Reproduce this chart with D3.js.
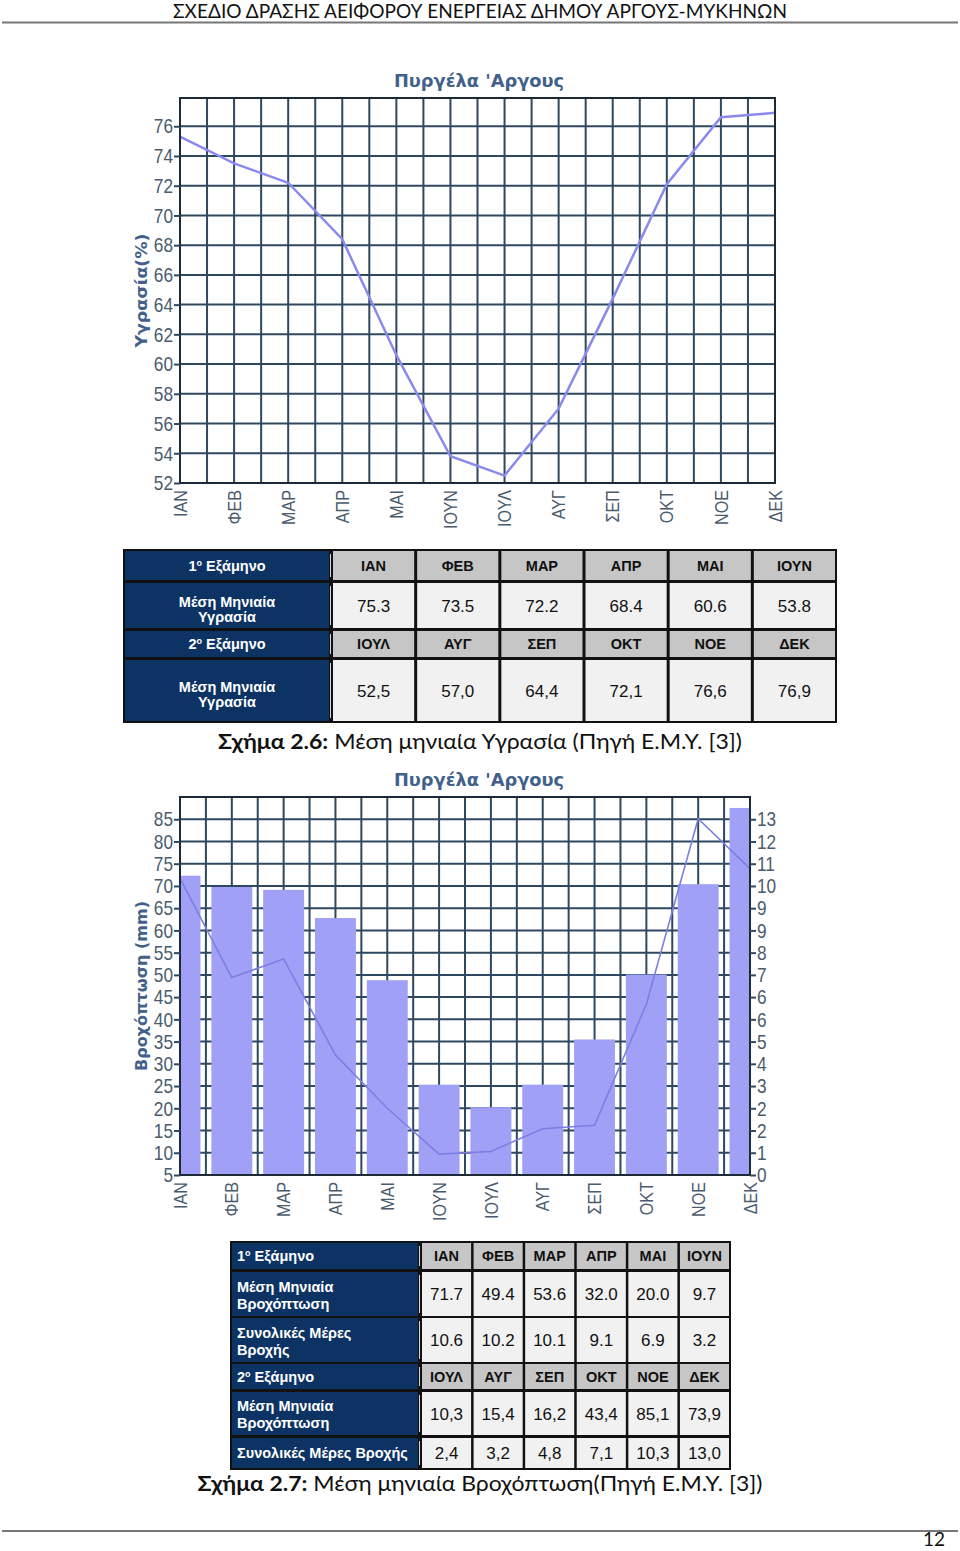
<!DOCTYPE html>
<html>
<head>
<meta charset="utf-8">
<script src="https://cdn.jsdelivr.net/npm/d3@7"></script>
<style>
body { margin: 0; background: #fff; }
svg { display: block; }
</style>
</head>
<body>
<div id="page"></div>
<script>
var pageHeader = "ΣΧΕΔΙΟ ΔΡΑΣΗΣ ΑΕΙΦΟΡΟΥ ΕΝΕΡΓΕΙΑΣ ΔΗΜΟΥ ΑΡΓΟΥΣ-ΜΥΚΗΝΩΝ";
var chartTitle = "Πυργέλα 'Αργους";
var months = ["ΙΑΝ", "ΦΕΒ", "ΜΑΡ", "ΑΠΡ", "ΜΑΙ", "ΙΟΥΝ", "ΙΟΥΛ", "ΑΥΓ", "ΣΕΠ", "ΟΚΤ", "ΝΟΕ", "ΔΕΚ"];
var humidity = [75.3, 73.5, 72.2, 68.4, 60.6, 53.8, 52.5, 57.0, 64.4, 72.1, 76.6, 76.9];
var rainfall = [71.7, 49.4, 53.6, 32.0, 20.0, 9.7, 10.3, 15.4, 16.2, 43.4, 85.1, 73.9];
var rainDays = [10.6, 10.2, 10.1, 9.1, 6.9, 3.2, 2.4, 3.2, 4.8, 7.1, 10.3, 13.0];
var humTicks = [52, 54, 56, 58, 60, 62, 64, 66, 68, 70, 72, 74, 76];
var rainTicks = [5, 10, 15, 20, 25, 30, 35, 40, 45, 50, 55, 60, 65, 70, 75, 80, 85];
var daysPerMm = 0.1575; // right axis ratio against the left one

var gridCol = "#2e4860", labCol = "#4a5b6d", titleCol = "#42618a";
var axisFont = "'Liberation Sans', Arial, sans-serif";
var fmtDot = d3.format(".1f");
var fmtComma = function(v) { return fmtDot(v).replace(".", ","); };

var svg = d3.select("#page").append("svg")
	.attr("width", 960)
	.attr("height", 1551);

svg.append("rect").attr("width", 960).attr("height", 1551).attr("fill", "#fff");

// page header / footer
svg.append("text")
	.attr("x", 480).attr("y", 18)
	.attr("text-anchor", "middle")
	.attr("font-family", "Lato, sans-serif")
	.attr("font-size", 19)
	.attr("textLength", 614).attr("lengthAdjust", "spacingAndGlyphs")
	.attr("fill", "#111")
	.text(pageHeader);
svg.append("line").attr("x1", 2).attr("x2", 958).attr("y1", 22.5).attr("y2", 22.5)
	.attr("stroke", "#777").attr("stroke-width", 2);
svg.append("line").attr("x1", 2).attr("x2", 958).attr("y1", 1531).attr("y2", 1531)
	.attr("stroke", "#777").attr("stroke-width", 2);
svg.append("text")
	.attr("x", 945).attr("y", 1546)
	.attr("text-anchor", "end")
	.attr("font-family", "Lato, sans-serif")
	.attr("font-size", 19)
	.attr("fill", "#111")
	.text("12");

// squeeze text horizontally, the originals use a narrow screen font
function narrow(sel, f) {
	sel.each(function() {
		var w = this.getComputedTextLength();
		d3.select(this).attr("textLength", w * f).attr("lengthAdjust", "spacingAndGlyphs");
	});
}

function drawTitles(box, title, ytitle, ylen) {
	svg.append("text")
		.attr("x", 479).attr("y", box.top - 11)
		.attr("text-anchor", "middle")
		.attr("font-family", "'DejaVu Sans', sans-serif")
		.attr("font-weight", "bold")
		.attr("font-size", 18)
		.attr("textLength", 170).attr("lengthAdjust", "spacingAndGlyphs")
		.attr("fill", titleCol)
		.text(title);
	svg.append("text")
		.attr("transform", "translate(" + 147 + "," + ((box.top + box.bottom) / 2) + ") rotate(-90)")
		.attr("text-anchor", "middle")
		.attr("font-family", "'DejaVu Sans', sans-serif")
		.attr("font-weight", "bold")
		.attr("font-size", 16)
		.attr("textLength", ylen).attr("lengthAdjust", "spacingAndGlyphs")
		.attr("fill", titleCol)
		.text(ytitle);
}

function drawGrid(box, xi, y, ticks) {
	var g = svg.append("g");
	g.selectAll("line.v")
		.data(d3.range(0, 11.5, 0.5))
		.enter().append("line")
		.attr("x1", function(d) { return xi(d); })
		.attr("x2", function(d) { return xi(d); })
		.attr("y1", box.top).attr("y2", box.bottom)
		.attr("stroke", gridCol).attr("stroke-width", 2);
	g.selectAll("line.h")
		.data(ticks)
		.enter().append("line")
		.attr("x1", box.left).attr("x2", box.right)
		.attr("y1", function(d) { return y(d); })
		.attr("y2", function(d) { return y(d); })
		.attr("stroke", gridCol).attr("stroke-width", 2);
}

function styleAxis(g) {
	g.select(".domain").remove();
	g.selectAll(".tick line").attr("stroke", gridCol).attr("stroke-width", 2);
	g.selectAll(".tick text")
		.attr("fill", labCol)
		.attr("font-family", axisFont)
		.attr("font-size", 21)
		.call(narrow, 0.82);
}

function drawMonthLabels(box, x) {
	svg.append("g").selectAll("text")
		.data(months)
		.enter().append("text")
		.attr("transform", function(d) { return "translate(" + x(d) + "," + (box.bottom + 7) + ") rotate(-90)"; })
		.attr("text-anchor", "end")
		.attr("dy", "0.35em")
		.attr("font-family", axisFont)
		.attr("font-size", 19)
		.attr("fill", labCol)
		.text(function(d) { return d; })
		.call(narrow, 0.85);
}

function drawFrame(box) {
	svg.append("rect")
		.attr("x", box.left).attr("y", box.top)
		.attr("width", box.right - box.left).attr("height", box.bottom - box.top)
		.attr("fill", "none").attr("stroke", "#1c2a38").attr("stroke-width", 2);
}

// ---------- chart 1 : humidity ----------
var c1 = {left: 180, right: 775, top: 98, bottom: 483};
var x1 = d3.scalePoint().domain(months).range([c1.left, c1.right]);
var xi1 = d3.scaleLinear().domain([0, 11]).range([c1.left, c1.right]);
var y1 = d3.scaleLinear().domain([52, 77.9]).range([c1.bottom, c1.top]);

drawTitles(c1, chartTitle, "Υγρασία(%)", 114);
drawGrid(c1, xi1, y1, humTicks);

svg.append("path")
	.datum(humidity)
	.attr("fill", "none")
	.attr("stroke", "#8a8aee")
	.attr("stroke-width", 2.5)
	.attr("d", d3.line()
		.x(function(d, i) { return x1(months[i]); })
		.y(function(d) { return y1(d); }));

drawFrame(c1);
svg.append("g")
	.attr("transform", "translate(" + c1.left + ",0)")
	.call(d3.axisLeft(y1).tickValues(humTicks).tickSize(6).tickPadding(1))
	.call(styleAxis);
drawMonthLabels(c1, x1);

// ---------- chart 2 : rainfall ----------
var c2 = {left: 180, right: 750, top: 797, bottom: 1175};
var x2 = d3.scalePoint().domain(months).range([c2.left, c2.right]);
var xi2 = d3.scaleLinear().domain([0, 11]).range([c2.left, c2.right]);
var y2 = d3.scaleLinear().domain([5, 90]).range([c2.bottom, c2.top]);
var y2r = d3.scaleLinear().domain([0, 85 * daysPerMm]).range([c2.bottom, c2.top]);
var barW = x2.step() * 0.79;

drawTitles(c2, chartTitle, "Βροχόπτωση  (mm)", 170);
drawGrid(c2, xi2, y2, rainTicks);

svg.append("clipPath").attr("id", "plot2")
	.append("rect")
	.attr("x", c2.left).attr("y", c2.top)
	.attr("width", c2.right - c2.left).attr("height", c2.bottom - c2.top);

svg.append("g")
	.attr("clip-path", "url(#plot2)")
	.selectAll("rect")
	.data(rainDays)
	.enter().append("rect")
	.attr("x", function(d, i) { return x2(months[i]) - barW / 2; })
	.attr("y", function(d) { return y2r(d); })
	.attr("width", barW)
	.attr("height", function(d) { return c2.bottom - y2r(d); })
	.attr("fill", "#a0a0f7");

svg.append("path")
	.datum(rainfall)
	.attr("fill", "none")
	.attr("stroke", "#7e7ee2")
	.attr("stroke-width", 1.6)
	.attr("d", d3.line()
		.x(function(d, i) { return x2(months[i]); })
		.y(function(d) { return y2(d); }));

drawFrame(c2);
svg.append("g")
	.attr("transform", "translate(" + c2.left + ",0)")
	.call(d3.axisLeft(y2).tickValues(rainTicks).tickSize(6).tickPadding(1))
	.call(styleAxis);
svg.append("g")
	.attr("transform", "translate(" + c2.right + ",0)")
	.call(d3.axisRight(y2r)
		.tickValues(rainTicks.map(function(t) { return (t - 5) * daysPerMm; }))
		.tickFormat(d3.format(".0f"))
		.tickSize(6).tickPadding(1))
	.call(styleAxis);
drawMonthLabels(c2, x2);

// ---------- tables ----------
function labelText(sel, lines, x, cy, anchor, offs) {
	var t = sel.append("text")
		.attr("text-anchor", anchor)
		.attr("font-family", "'Liberation Sans', Arial, sans-serif")
		.attr("font-weight", "bold")
		.attr("font-size", 14.5)
		.attr("fill", "#fff");
	if (lines.sup) {
		t.attr("x", x).attr("y", cy + 5);
		t.append("tspan").text(lines.n);
		t.append("tspan").attr("font-size", 9).attr("dy", -5).text("ο");
		t.append("tspan").attr("dy", 5).text(" " + lines.rest);
	} else if (lines.length === 1) {
		t.append("tspan").attr("x", x).attr("y", cy + 5).text(lines[0]);
	} else {
		lines.forEach(function(s, k) {
			t.append("tspan").attr("x", x).attr("y", cy + offs[k]).text(s);
		});
	}
}

function drawTable(spec) {
	var g = svg.append("g");
	g.append("rect")
		.attr("x", spec.x0).attr("y", spec.rows[0][0] - 2)
		.attr("width", spec.x1 - spec.x0)
		.attr("height", spec.rows[spec.rows.length - 1][1] - spec.rows[0][0] + 4)
		.attr("fill", "#111");
	var cw = (spec.x1 - 2 - spec.cellX - 5 * spec.gap) / 6;
	spec.content.forEach(function(row, r) {
		var top = spec.rows[r][0], bot = spec.rows[r][1], cy = (top + bot) / 2;
		g.append("rect")
			.attr("x", spec.x0 + 2).attr("y", top)
			.attr("width", spec.labelW).attr("height", bot - top)
			.attr("fill", "#0c3364");
		g.append("line")
			.attr("x1", spec.x0 + 2 + spec.labelW + 1.5).attr("x2", spec.x0 + 2 + spec.labelW + 1.5)
			.attr("y1", top + 3).attr("y2", bot - 3)
			.attr("stroke", "#d8d8d8").attr("stroke-width", 1);
		var lx = spec.align === "middle" ? spec.x0 + 2 + spec.labelW / 2 : spec.x0 + 7;
		labelText(g, row.label, lx, cy, spec.align, spec.lineOffs);
		row.cells.forEach(function(c, k) {
			var cx = spec.cellX + k * (cw + spec.gap);
			g.append("rect")
				.attr("x", cx).attr("y", top)
				.attr("width", cw).attr("height", bot - top)
				.attr("fill", row.head ? "#c6c6c6" : "#f1f1f1");
			g.append("text")
				.attr("x", cx + cw / 2).attr("y", cy + (row.head ? 5 : 6))
				.attr("text-anchor", "middle")
				.attr("font-family", "'Liberation Sans', Arial, sans-serif")
				.attr("font-weight", row.head ? "bold" : "normal")
				.attr("font-size", row.head ? 14.5 : 17)
				.attr("fill", "#111")
				.text(c);
		});
	});
}

var humLabel = ["Μέση Μηνιαία", "Υγρασία"];
drawTable({
	x0: 123, x1: 837, labelW: 204, cellX: 333, gap: 3, align: "middle",
	lineOffs: [1, 16],
	rows: [[551, 580], [583, 628], [631, 657], [660, 721]],
	content: [
		{label: {sup: true, n: "1", rest: "Εξάμηνο"}, cells: months.slice(0, 6), head: true},
		{label: humLabel, cells: humidity.slice(0, 6).map(fmtDot)},
		{label: {sup: true, n: "2", rest: "Εξάμηνο"}, cells: months.slice(6), head: true},
		{label: humLabel, cells: humidity.slice(6).map(fmtComma)}
	]
});

var rainLabel = ["Μέση Μηνιαία", "Βροχόπτωση"];
var daysLabel = ["Συνολικές Μέρες", "Βροχής"];
drawTable({
	x0: 230, x1: 731, labelW: 186, cellX: 422, gap: 2.5, align: "start",
	lineOffs: [-2.5, 14.5],
	rows: [[1243, 1269], [1272, 1316], [1318, 1362], [1364, 1389], [1392, 1435], [1438, 1468]],
	content: [
		{label: {sup: true, n: "1", rest: "Εξάμηνο"}, cells: months.slice(0, 6), head: true},
		{label: rainLabel, cells: rainfall.slice(0, 6).map(fmtDot)},
		{label: daysLabel, cells: rainDays.slice(0, 6).map(fmtDot)},
		{label: {sup: true, n: "2", rest: "Εξάμηνο"}, cells: months.slice(6), head: true},
		{label: rainLabel, cells: rainfall.slice(6).map(fmtComma)},
		{label: ["Συνολικές Μέρες Βροχής"], cells: rainDays.slice(6).map(fmtComma)}
	]
});

// captions
function caption(y, len, bold, rest) {
	var t = svg.append("text")
		.attr("x", 480).attr("y", y)
		.attr("text-anchor", "middle")
		.attr("font-family", "Lato, sans-serif")
		.attr("font-size", 21)
		.attr("textLength", len).attr("lengthAdjust", "spacingAndGlyphs")
		.attr("fill", "#111");
	t.append("tspan").attr("font-weight", "bold").text(bold);
	t.append("tspan").text(rest);
}
caption(749, 524, "Σχήμα 2.6:", " Μέση μηνιαία Υγρασία (Πηγή Ε.Μ.Υ. [3])");
caption(1491, 565, "Σχήμα 2.7:", " Μέση μηνιαία Βροχόπτωση(Πηγή Ε.Μ.Υ. [3])");
</script>
</body>
</html>
